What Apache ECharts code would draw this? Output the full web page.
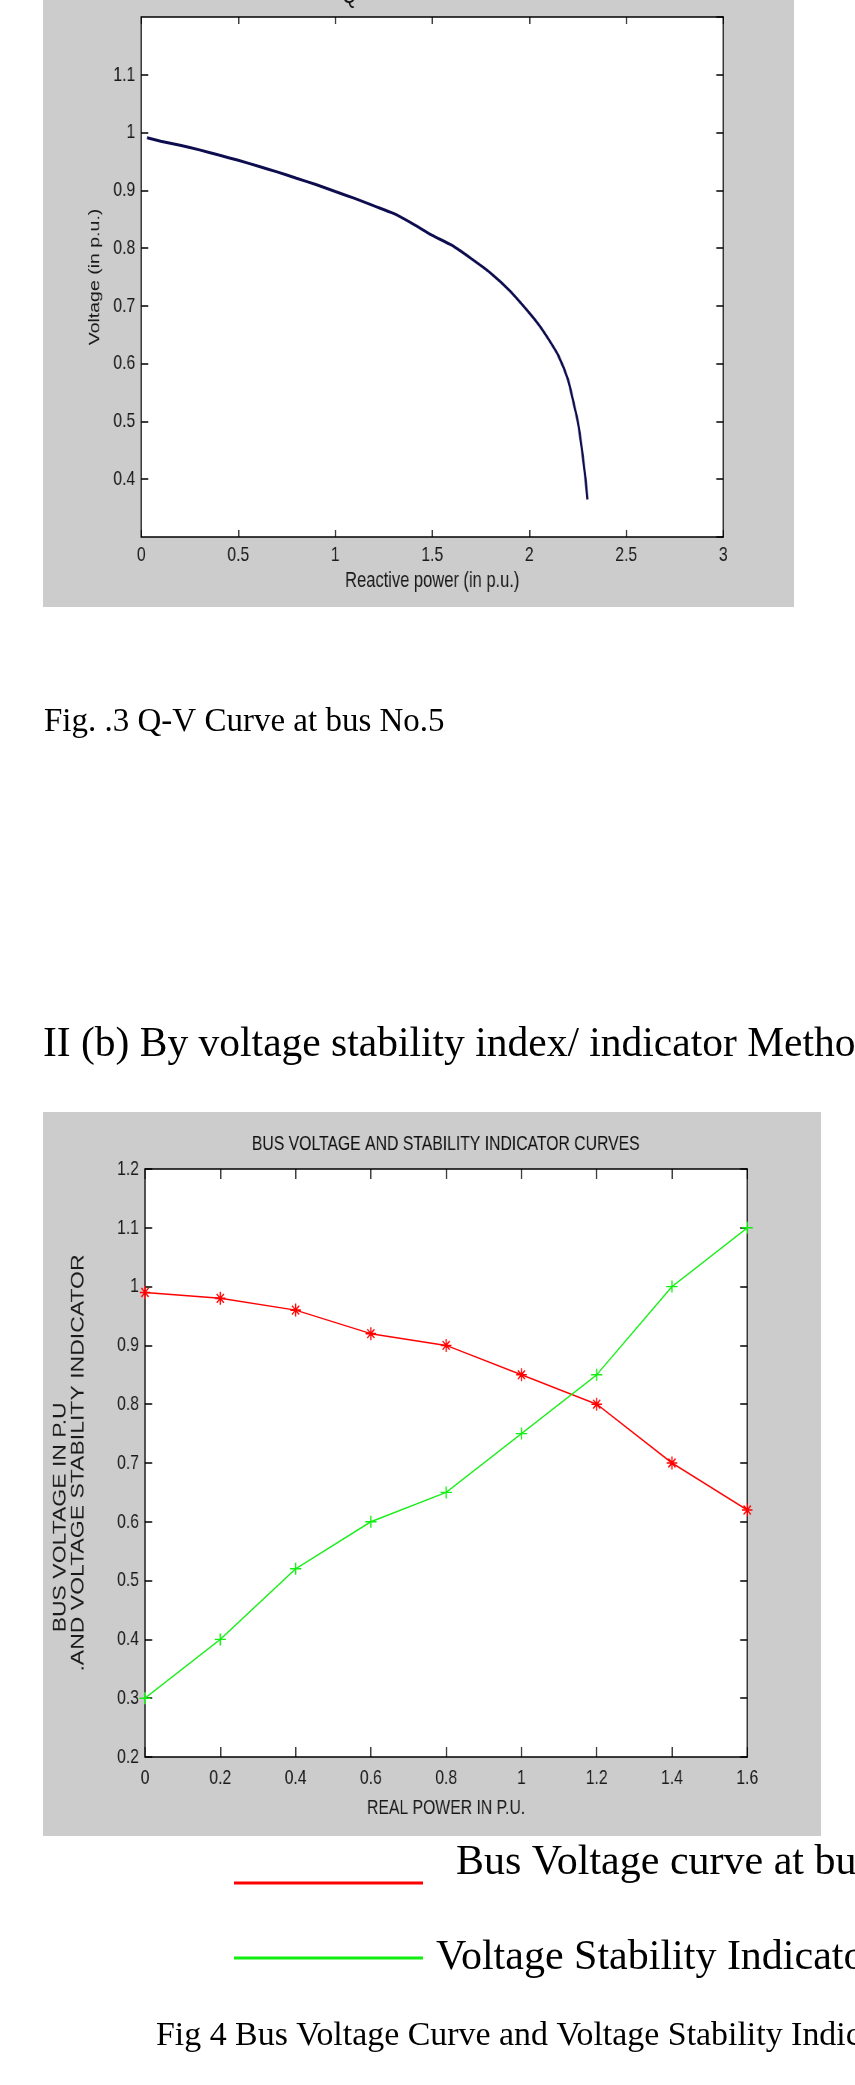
<!DOCTYPE html>
<html>
<head>
<meta charset="utf-8">
<script src="https://cdn.jsdelivr.net/npm/echarts@6/dist/echarts.min.js"></script>
<style>
  html, body { margin:0; padding:0; background:#ffffff; }
  #page { position:relative; width:855px; height:2085px; overflow:hidden; background:#fff; }
  #doc { position:absolute; left:0; top:0; width:855px; height:2085px; }
  #c1 { position:absolute; left:43px; top:0px; width:1001px; height:607px; transform:scaleX(0.75); transform-origin:0 0; }
  #c2 { position:absolute; left:43px; top:1112px; width:1037px; height:724px; transform:scaleX(0.75); transform-origin:0 0; }
</style>
</head>
<body>
<div id="page">
  <div id="doc"></div>
  <div id="c1"></div>
  <div id="c2"></div>
</div>
<script>
// ---------- Fig. 3 : Q-V curve ----------
const qvReactive = [0.03, 0.10, 0.20, 0.30, 0.40, 0.50, 0.60, 0.70, 0.80, 0.90, 1.00, 1.10, 1.20, 1.30, 1.40, 1.50, 1.60, 1.70, 1.80, 1.90, 2.00, 2.05, 2.10, 2.15, 2.20, 2.23, 2.25, 2.27, 2.29, 2.30];
const qvVoltage  = [0.991, 0.985, 0.978, 0.970, 0.961, 0.952, 0.942, 0.932, 0.921, 0.910, 0.898, 0.886, 0.873, 0.860, 0.842, 0.822, 0.805, 0.782, 0.757, 0.726, 0.688, 0.667, 0.642, 0.614, 0.572, 0.530, 0.500, 0.455, 0.400, 0.365];

// ---------- Fig. 4 : bus voltage and stability indicator ----------
const realPower          = [0, 0.2, 0.4, 0.6, 0.8, 1.0, 1.2, 1.4, 1.6];
const busVoltage         = [0.99, 0.98, 0.96, 0.92, 0.90, 0.85, 0.80, 0.70, 0.62];
const stabilityIndicator = [0.30, 0.40, 0.52, 0.60, 0.65, 0.75, 0.85, 1.00, 1.10];

// ---------- texts ----------
const fig3Title   = 'Q';
const fig3XName   = 'Reactive power (in p.u.)';
const fig3YName   = 'Voltage (in p.u.)';
const fig4Title   = 'BUS VOLTAGE AND STABILITY INDICATOR CURVES';
const fig4XName   = 'REAL POWER IN P.U.';
const fig4YName   = 'BUS VOLTAGE IN P.U' + '\u00a0'.repeat(17) + '\n.AND VOLTAGE STABILITY INDICATOR';
const legendNames = ['Bus Voltage curve at bus No.5', 'Voltage Stability Indicator curve'];
const caption3    = 'Fig. .3 Q-V Curve at bus No.5';
const heading     = 'II (b) By voltage stability index/ indicator Method';
const caption4    = 'Fig 4 Bus Voltage Curve and Voltage Stability Indicator Curve';

const SANS  = "'Liberation Sans', Arial, Helvetica, sans-serif";
const SERIF = "'Liberation Serif', 'Times New Roman', Times, serif";

function boxAxes(cfg) {
  // [primary, secondary] axis configs: MATLAB style box with inward ticks
  const common = {
    type: 'value', min: cfg.min, max: cfg.max, interval: cfg.interval,
    axisLine: { show: true, onZero: false, lineStyle: { color: '#000', width: 1.5 } },
    axisTick: { show: true, inside: true, length: cfg.tick, lineStyle: { color: '#000', width: 1.5 } },
    splitLine: { show: false }
  };
  const primary = Object.assign({}, common, {
    position: cfg.pos[0],
    axisLabel: Object.assign({ color: '#1a1a1a', fontFamily: SANS, fontSize: cfg.labelSize, margin: cfg.margin, lineHeight: 20 }, cfg.labelExtra || {}),
    name: cfg.name, nameLocation: 'middle', nameGap: cfg.nameGap, nameRotate: cfg.nameRotate,
    nameTextStyle: { color: '#1a1a1a', fontFamily: SANS, fontSize: cfg.nameSize, lineHeight: cfg.nameLine, align: 'center' }
  });
  const secondary = Object.assign({}, common, {
    position: cfg.pos[1],
    axisLabel: { show: false }
  });
  return [primary, secondary];
}

// ---------- chart 1 ----------
const c1 = echarts.init(document.getElementById('c1'), null, { renderer: 'canvas' });
c1.setOption({
  animation: false,
  backgroundColor: '#cccccc',
  grid: { left: 131, top: 17, width: 776, height: 520, show: true, backgroundColor: '#ffffff', borderWidth: 0 },
  xAxis: boxAxes({ min: 0, max: 3, interval: 0.5, tick: 7, pos: ['bottom', 'top'], labelSize: 21, margin: 8,
                   name: fig3XName, nameGap: 33, nameSize: 22, nameLine: 22 }),
  yAxis: boxAxes({ min: 0.3, max: 1.2, interval: 0.1, tick: 9.3, pos: ['left', 'right'], labelSize: 21, margin: 8,
                   labelExtra: { showMinLabel: false, showMaxLabel: false },
                   name: fig3YName, nameGap: 51, nameSize: 19.5, nameLine: 20, nameRotate: 90 }),
  graphic: [{
    type: 'text', x: 399, y: 8, silent: true,
    style: { text: fig3Title, fontFamily: SANS, fontSize: 24, fill: '#111', verticalAlign: 'bottom', align: 'left' }
  }],
  series: [{
    type: 'line', xAxisIndex: 0, yAxisIndex: 0,
    data: qvReactive.map((q, i) => [q, qvVoltage[i]]),
    symbol: 'none', smooth: 0.2,
    lineStyle: { color: '#0c0c4e', width: 3 }
  }]
});

// ---------- chart 2 ----------
const STAR = 'path://M5,0L5,10M0,5L10,5M1.6,1.6L8.4,8.4M1.6,8.4L8.4,1.6';
const PLUS = 'path://M5,0L5,10M0,5L10,5';
const c2 = echarts.init(document.getElementById('c2'), null, { renderer: 'canvas' });
c2.setOption({
  animation: false,
  backgroundColor: '#cccccc',
  grid: { left: 136, top: 57, width: 803, height: 588, show: true, backgroundColor: '#ffffff', borderWidth: 0 },
  xAxis: boxAxes({ min: 0, max: 1.6, interval: 0.2, tick: 10, pos: ['bottom', 'top'], labelSize: 21, margin: 11,
                   name: fig4XName, nameGap: 40, nameSize: 21, nameLine: 22 }),
  yAxis: boxAxes({ min: 0.2, max: 1.2, interval: 0.1, tick: 9.5, pos: ['left', 'right'], labelSize: 21, margin: 8,
                   name: fig4YName, nameGap: 76, nameSize: 23, nameLine: 24, nameRotate: 90 }),
  graphic: [{
    type: 'text', x: 537, y: 32, silent: true,
    style: { text: fig4Title, fontFamily: SANS, fontSize: 21, fill: '#111', align: 'center', verticalAlign: 'middle' }
  }],
  series: [{
    name: legendNames[0], type: 'line', xAxisIndex: 0, yAxisIndex: 0, clip: false,
    data: realPower.map((p, i) => [p, busVoltage[i]]),
    symbol: STAR, symbolSize: [14, 13], showAllSymbol: true,
    itemStyle: { color: 'rgba(0,0,0,0)', borderColor: '#ff0000', borderWidth: 1.6 },
    lineStyle: { color: '#ff0000', width: 1.5 }
  }, {
    name: legendNames[1], type: 'line', xAxisIndex: 0, yAxisIndex: 0, clip: false,
    data: realPower.map((p, i) => [p, stabilityIndicator[i]]),
    symbol: PLUS, symbolSize: [15, 12], showAllSymbol: true,
    itemStyle: { color: 'rgba(0,0,0,0)', borderColor: '#11ee11', borderWidth: 1.6 },
    lineStyle: { color: '#11ee11', width: 1.5 }
  }]
});

// ---------- document texts + legend of Fig. 4 ----------
// red key sits below its text: icon box 43px tall with the stroke at its bottom
const LOW_LINE = 'path://M0,0L0.01,0M0,40L189,40L189,43L0,43Z';
const doc = echarts.init(document.getElementById('doc'), null, { renderer: 'canvas' });
const legendText = (pad) => ({ fontFamily: SERIF, fontSize: 42, color: '#000', lineHeight: 44, padding: pad });
doc.setOption({
  animation: false,
  backgroundColor: '#ffffff',
  grid: { left: 0, top: 0, width: 10, height: 10, show: false },
  xAxis: { type: 'value', show: false },
  yAxis: { type: 'value', show: false },
  legend: [{
    data: [legendNames[0]], left: 229, top: 1836, icon: LOW_LINE, itemWidth: 189, itemHeight: 43,
    selectedMode: false, textStyle: legendText([0, 0, 0, 28])
  }, {
    data: [legendNames[1]], left: 229, top: 1931, icon: 'rect', itemWidth: 189, itemHeight: 3,
    selectedMode: false, textStyle: legendText([0, 0, 0, 8])
  }],
  series: [
    { name: legendNames[0], type: 'line', data: [], color: '#ff0000', symbol: 'none', lineStyle: { color: '#ff0000' } },
    { name: legendNames[1], type: 'line', data: [], color: '#11ee11', symbol: 'none', lineStyle: { color: '#11ee11' } }
  ],
  graphic: [
    { type: 'text', x: 44, y: 722, silent: true,
      style: { text: caption3, fontFamily: SERIF, fontSize: 33, fill: '#000', verticalAlign: 'middle' } },
    { type: 'text', x: 43, y: 1045, silent: true,
      style: { text: heading, fontFamily: SERIF, fontSize: 41.5, fill: '#000', verticalAlign: 'middle' } },
    { type: 'text', x: 156, y: 2036, silent: true,
      style: { text: caption4, fontFamily: SERIF, fontSize: 33.9, fill: '#000', verticalAlign: 'middle' } }
  ]
});
</script>
</body>
</html>
